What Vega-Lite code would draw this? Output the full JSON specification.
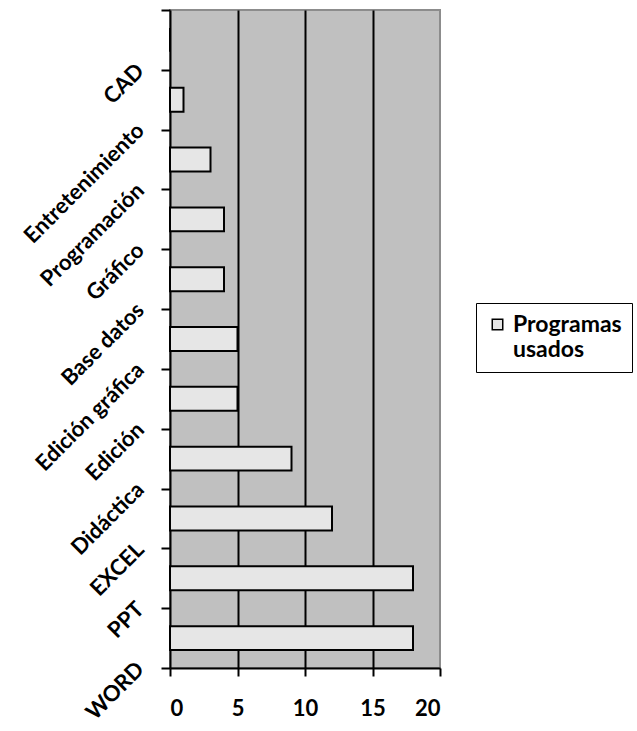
{
  "$schema": "https://vega.github.io/schema/vega-lite/v6.json",
  "autosize": "none",
  "width": 270,
  "height": 658,
  "padding": {"left": 170, "top": 10, "right": 197, "bottom": 63},
  "background": "white",
  "config": {"view": {"fill": "#c0c0c0", "stroke": "#8c8c8c", "strokeWidth": 2}, "font": "Lato"},
  "data": {"values": [
    {"programa": "CAD", "n": 0},
    {"programa": "Entretenimiento", "n": 1},
    {"programa": "Programación", "n": 3},
    {"programa": "Gráfico", "n": 4},
    {"programa": "Base datos", "n": 4},
    {"programa": "Edición gráfica", "n": 5},
    {"programa": "Edición", "n": 5},
    {"programa": "Didáctica", "n": 9},
    {"programa": "EXCEL", "n": 12},
    {"programa": "PPT", "n": 18},
    {"programa": "WORD", "n": 18}
  ]},
  "mark": {"type": "bar", "stroke": "black", "strokeWidth": 2, "height": {"band": 0.4}},
  "encoding": {
    "y": {
      "field": "programa", "type": "nominal", "sort": null, "title": null,
      "scale": {"paddingInner": 0, "paddingOuter": 0},
      "axis": {
        "domainColor": "black", "domainWidth": 2,
        "tickColor": "black", "tickWidth": 2, "tickSize": 9, "tickBand": "extent",
        "labelAngle": -45, "labelAlign": "right", "labelBaseline": "middle",
        "labelOffset": 27, "labelPadding": 21,
        "labelFont": "Lato", "labelFontWeight": "bold", "labelFontSize": 22,
        "labelColor": "black", "labelLimit": 300, "labelOverlap": false, "grid": false
      }
    },
    "x": {
      "field": "n", "type": "quantitative", "title": null,
      "scale": {"domain": [0, 20], "nice": false},
      "axis": {
        "values": [0, 5, 10, 15, 20],
        "grid": true, "gridColor": "black", "gridWidth": 2,
        "gridOpacity": {"condition": {"test": "datum.value == 20 || datum.value == 0", "value": 0}, "value": 1},
        "domainColor": "black", "domainWidth": 2,
        "tickColor": "black", "tickWidth": 2, "tickSize": 8,
        "labelPadding": 22, "labelFontSize": 22, "labelFontWeight": "bold",
        "labelColor": "black", "labelFont": "Lato"
      }
    },
    "color": {
      "datum": "Programas usados", "type": "nominal",
      "scale": {"range": ["#e6e6e6"]},
      "legend": {
        "orient": "none", "legendX": 306, "legendY": 293, "title": null,
        "strokeColor": "black", "fillColor": "white", "padding": 10,
        "symbolType": "square", "symbolSize": 110, "symbolStrokeColor": "black", "symbolStrokeWidth": 1.5,
        "labelFont": "Lato", "labelFontSize": 23, "labelFontWeight": "bold", "labelColor": "black",
        "labelExpr": "split(datum.label, ' ')", "labelLimit": 300
      }
    }
  }
}
